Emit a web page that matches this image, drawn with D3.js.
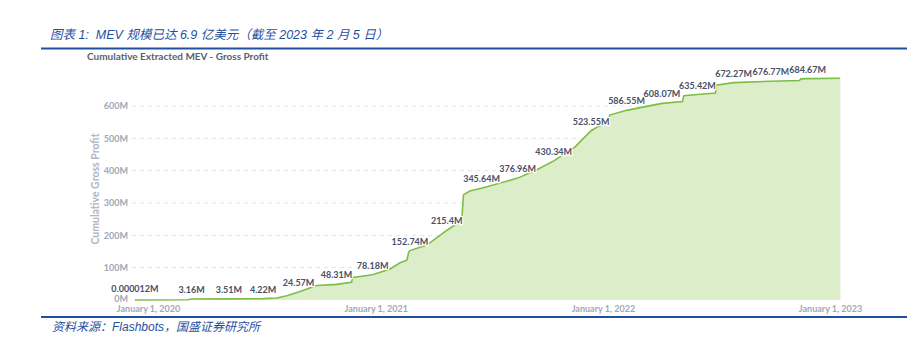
<!DOCTYPE html>
<html><head><meta charset="utf-8">
<script src="https://cdn.jsdelivr.net/npm/d3@7/dist/d3.min.js"></script>
<style>
body{margin:0;background:#fff;}
svg{display:block;}
</style></head>
<body>
<svg id="c" width="923" height="340"></svg>
<script>
// ---- data ----
const lineDates = ["2019-12-11","2020-03-05","2020-03-11","2020-05-10","2020-07-04","2020-07-26","2020-08-11","2020-08-30","2020-09-28","2020-10-30","2020-11-23","2020-11-25","2020-12-27","2021-01-24","2021-02-09","2021-02-20","2021-02-23","2021-02-25","2021-03-24","2021-04-25","2021-05-08","2021-05-19","2021-05-22","2021-06-01","2021-06-20","2021-08-17","2021-09-17","2021-10-14","2021-11-17","2021-12-13","2021-12-22","2022-01-09","2022-01-12","2022-02-08","2022-04-06","2022-05-09","2022-05-11","2022-06-02","2022-07-01","2022-07-02","2022-07-30","2022-09-28","2022-11-13","2022-11-15","2022-11-26","2023-01-17"];
const lineValues = [0.000012,1.0,3.16,3.51,4.22,6,13,24.57,45,48.31,55,70,78.18,96,115,123,148,152.74,170,215.4,232,243,325,337,345.64,376.96,403,430.34,473,523.55,534,550,572,586.55,608.07,614,632,635.42,640,664,672.27,676.77,679,684,684.67,686];
const labelDates = ["2019-12-11","2020-03-11","2020-05-10","2020-07-04","2020-08-30","2020-10-30","2020-12-27","2021-02-25","2021-04-25","2021-06-20","2021-08-17","2021-10-14","2021-12-13","2022-02-08","2022-04-06","2022-06-02","2022-07-30","2022-09-28","2022-11-26"];
const labelValues = [0.000012,3.16,3.51,4.22,24.57,48.31,78.18,152.74,215.4,345.64,376.96,430.34,523.55,586.55,608.07,635.42,672.27,676.77,684.67];
const xTickDates = ["2020-01-01","2021-01-01","2022-01-01","2023-01-01"];
const yTicks = [0,100,200,300,400,500,600];
const titleText = "图表 1:  MEV 规模已达 6.9 亿美元（截至 2023 年 2 月 5 日）";
const subtitleText = "Cumulative Extracted MEV - Gross Profit";
const yAxisTitle = "Cumulative Gross Profit";
const sourceText = "资料来源：Flashbots，国盛证券研究所";

// ---- drawing ----
const parse = d3.utcParse("%Y-%m-%d");
const svg = d3.select("#c");
const blue = "#1f50a0";

const x = d3.scaleUtc().domain([parse("2020-01-01"), parse("2023-01-01")]).range([148, 830]);
const y = d3.scaleLinear().domain([0, 600]).range([300, 106]);

// title
svg.append("text").attr("x", 50).attr("y", 39).text(titleText)
  .attr("font-family", "'Liberation Sans','Noto Sans CJK SC',sans-serif")
  .attr("font-style", "italic").attr("font-size", 12.5).attr("fill", blue)
  .style("white-space", "pre");
svg.append("line").attr("x1", 41).attr("x2", 907).attr("y1", 48.5).attr("y2", 48.5)
  .attr("stroke", blue).attr("stroke-width", 2);
svg.append("line").attr("x1", 41).attr("x2", 907).attr("y1", 317).attr("y2", 317)
  .attr("stroke", blue).attr("stroke-width", 2);
svg.append("text").attr("x", 52).attr("y", 331).text(sourceText)
  .attr("font-family", "'Liberation Sans','Noto Sans CJK SC',sans-serif")
  .attr("font-style", "italic").attr("font-size", 12).attr("fill", blue);

// subtitle
svg.append("text").attr("x", 87).attr("y", 60).text(subtitleText)
  .attr("font-family", "Lato,sans-serif").attr("font-weight", 700)
  .attr("font-size", 10).attr("fill", "#5a5f6b");

// y axis title
svg.append("text").attr("transform", "translate(99,189) rotate(-90)")
  .attr("text-anchor", "middle").text(yAxisTitle)
  .attr("font-family", "Lato,sans-serif").attr("font-weight", 700)
  .attr("font-size", 10.5).attr("fill", "#b0b5c4");

// grid
svg.append("g").selectAll("line").data(yTicks.filter(d => d > 0)).join("line")
  .attr("x1", 132).attr("x2", 843).attr("y1", d => y(d)).attr("y2", d => y(d))
  .attr("stroke", "#e3e4e8").attr("stroke-dasharray", "4,4").attr("stroke-width", 1);

// y axis
const ya = svg.append("g").attr("transform", "translate(130,0)")
  .call(d3.axisLeft(y).tickValues(yTicks).tickSize(0).tickPadding(2).tickFormat(d => d + "M"));
ya.select(".domain").remove();
ya.selectAll("text").attr("font-family", "Lato,sans-serif").attr("font-weight", 700)
  .attr("font-size", 9).attr("fill", "#a2a7b5");
ya.selectAll(".tick").filter(d => d === 0).select("text").attr("dy", "0.2em");

// x axis
const xa = svg.append("g").attr("transform", "translate(0,304)")
  .call(d3.axisBottom(x).tickValues(xTickDates.map(parse)).tickSize(0).tickPadding(2)
    .tickFormat(d3.utcFormat("%B %-d, %Y")));
xa.select(".domain").remove();
xa.selectAll("text").attr("font-family", "Lato,sans-serif").attr("font-weight", 700)
  .attr("font-size", 9).attr("fill", "#a2a7b5");

// area + line
const pts = lineDates.map((d, i) => ({d: parse(d), v: lineValues[i]}));
svg.append("path").datum(pts)
  .attr("d", d3.area().x(p => x(p.d)).y0(y(0)).y1(p => y(p.v)))
  .attr("fill", "#dbedc9");
svg.append("line").attr("x1", x(pts[pts.length-1].d)).attr("x2", x(pts[pts.length-1].d))
  .attr("y1", y(pts[pts.length-1].v)).attr("y2", y(0)).attr("stroke", "#e4e6e2");
svg.append("path").datum(pts)
  .attr("d", d3.line().x(p => x(p.d)).y(p => y(p.v)))
  .attr("fill", "none").attr("stroke", "#7dbd45").attr("stroke-width", 1.6);

// labels
svg.append("g").selectAll("text").data(labelDates.map((d, i) => ({d: parse(d), v: labelValues[i]})))
  .join("text")
  .attr("x", p => x(p.d)).attr("y", p => y(p.v) - (p.v < 1 ? 8 : 6))
  .attr("text-anchor", "middle").text(p => p.v + "M")
  .attr("font-family", "Lato,sans-serif").attr("font-weight", 700).attr("font-size", 9)
  .attr("fill", "#4a5066").attr("stroke", "#fff").attr("stroke-width", 2.5)
  .attr("paint-order", "stroke").attr("stroke-linejoin", "round");
</script>
</body></html>
